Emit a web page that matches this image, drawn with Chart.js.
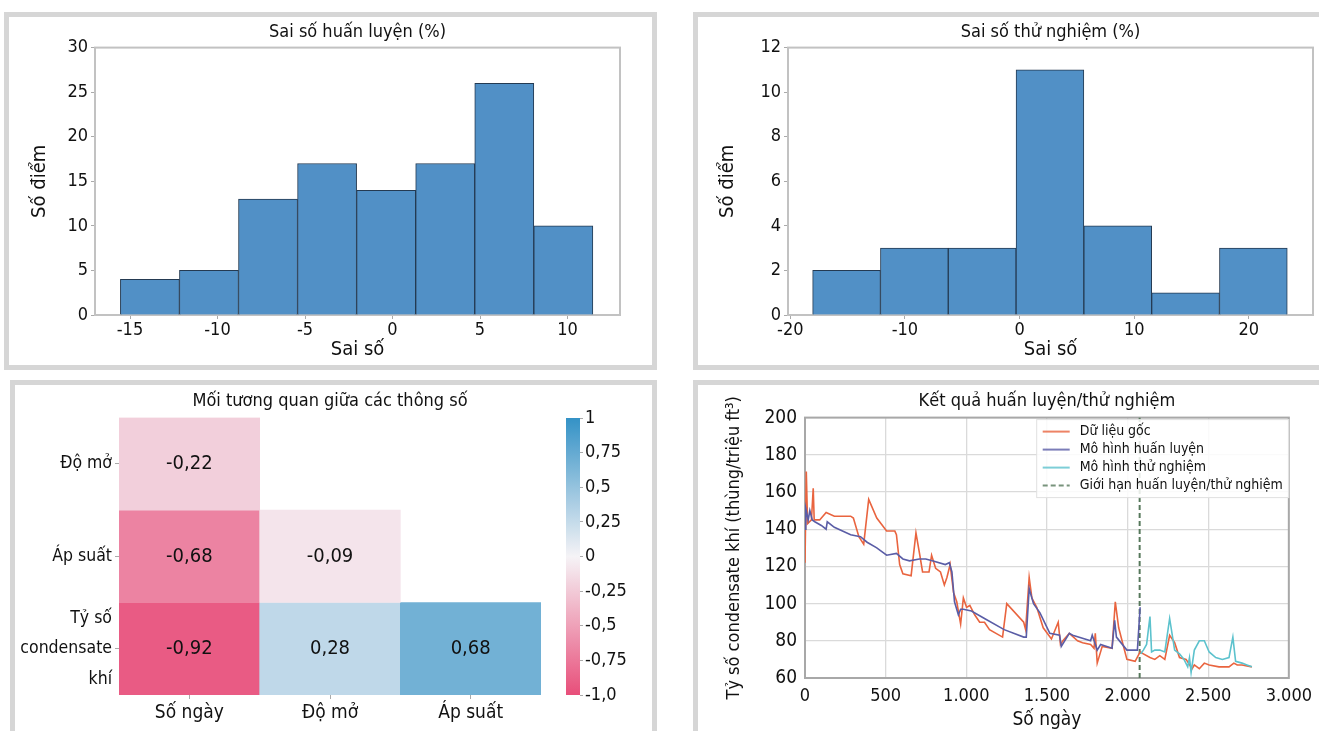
<!DOCTYPE html>
<html>
<head>
<meta charset="utf-8">
<script src="https://cdn.jsdelivr.net/npm/chart.js@4.4.0/dist/chart.umd.min.js"></script>
<style>
  html, body { margin: 0; padding: 0; background: #fff; overflow: hidden; }
  body { width: 1319px; height: 731px; position: relative; }
  .panel { position: absolute; border: 5px solid #d6d6d6; background: #fff; box-sizing: border-box; overflow: hidden; }
  .panel canvas { position: absolute; }
</style>
</head>
<body>
<div class="panel" style="left:4px;top:12px;width:653px;height:358px">
  <canvas id="trainHist" width="643" height="348" style="left:0;top:0"></canvas>
</div>
<div class="panel" style="left:693px;top:12px;width:632px;height:358px">
  <canvas id="testHist" width="622" height="348" style="left:0;top:0"></canvas>
</div>
<div class="panel" style="left:10px;top:380px;width:647px;height:360px">
  <canvas id="corrHeat" width="545" height="350" style="left:0;top:0"></canvas>
  <canvas id="corrBar" width="92" height="320" style="left:545px;top:20px"></canvas>
</div>
<div class="panel" style="left:693px;top:380px;width:632px;height:360px">
  <canvas id="resultLine" width="622" height="350" style="left:0;top:0"></canvas>
</div>

<script>
const FONT = "'Liberation Sans Narrow', 'DejaVu Sans Condensed', 'Roboto Condensed', 'Open Sans', sans-serif";
Chart.defaults.font.family = FONT;
Chart.defaults.color = "#111";
Chart.defaults.animation = false;

// histogram: training error
const trainBinCenters = [-13.8625, -10.4875, -7.1125, -3.7375, -0.3625, 3.0125, 6.3875, 9.7625];
const trainCounts = [4, 5, 13, 17, 14, 17, 26, 10];
const trainXTicks = [-15, -10, -5, 0, 5, 10];

// histogram: test error
const testBinCenters = [-15.0925, -9.1775, -3.2625, 2.6525, 8.5675, 14.4825, 20.3975];
const testCounts = [2, 3, 3, 11, 4, 1, 3];
const testXTicks = [-20, -10, 0, 10, 20];

// correlation heatmap (lower triangle)
const heatCols = ["Số ngày", "Độ mở", "Áp suất"];
const heatRows = ["Độ mở", "Áp suất", ["Tỷ số", "condensate", "khí"]];
const corrDoMo = [-0.22, null, null];
const corrApSuat = [-0.68, -0.09, null];
const corrTySo = [-0.92, 0.28, 0.68];
const cbTickValues = [-1, -0.75, -0.5, -0.25, 0, 0.25, 0.5, 0.75, 1];
const cbTickLabels = ["-1,0", "-0,75", "-0,5", "-0,25", "0", "0,25", "0,5", "0,75", "1"];

// training / test results
const origDays = [0, 8, 16, 40, 51, 57, 91, 131, 182, 283, 300, 334, 364, 395, 445, 506, 557, 567, 587, 607,
  658, 688, 712, 729, 769, 785, 810, 840, 864, 880, 900, 921, 941, 965, 982, 1002, 1022, 1052, 1083, 1113,
  1144, 1225, 1251, 1356, 1368, 1390, 1407, 1437, 1477, 1528, 1570, 1584, 1599, 1639, 1690, 1721, 1771, 1792, 1800, 1812,
  1843, 1904, 1924, 1945, 1996, 2047, 2078, 2098, 2139, 2169, 2200, 2231, 2261, 2292, 2322, 2363, 2400, 2414, 2445, 2476,
  2506, 2567, 2629, 2659, 2680, 2710, 2771];
const origValues = [122, 171, 143, 145, 162, 145, 145, 149, 147, 147, 146, 136, 132, 156, 146, 139, 139, 137, 121, 116,
  115, 138, 126, 117, 117, 126, 119, 117, 110, 114, 121, 106, 101, 89, 103, 98, 99, 94, 90, 90,
  86, 82, 100, 90, 86, 114, 103, 98, 87, 81, 90, 78, 80, 84, 80, 79, 78, 76, 84, 68,
  77, 76, 101, 87, 70, 69, 74, 73, 71, 70, 72, 70, 83, 79, 71, 70, 65, 67, 65, 68,
  67, 66, 66, 68, 67, 67, 66];
const trainDays = [0, 5, 10, 20, 30, 45, 61, 101, 131, 138, 182, 283, 344, 385, 445, 506, 567, 607, 648, 709,
  749, 789, 870, 895, 911, 927, 951, 965, 982, 1032, 1113, 1235, 1356, 1372, 1390, 1417, 1457, 1518, 1579, 1589,
  1639, 1660, 1771, 1781, 1812, 1833, 1904, 1920, 1931, 1996, 2061, 2078];
const trainValues = [140, 151, 149, 145, 150, 145, 144, 142, 140, 144, 141, 137, 136, 133, 130, 126, 127, 124, 123, 124,
  124, 123, 121, 122, 117, 101, 94, 97, 97, 96, 92, 86, 82, 82, 108, 100, 95, 84, 83, 77,
  84, 83, 80, 83, 75, 78, 76, 91, 82, 75, 75, 98];
const testDays = [2082, 2098, 2118, 2139, 2149, 2169, 2200, 2231, 2261, 2292, 2322, 2350, 2373, 2384, 2394, 2414, 2445, 2476, 2506, 2547,
  2588, 2629, 2653, 2670, 2710, 2740, 2771];
const testValues = [73, 75, 78, 93, 74, 75, 75, 74, 92, 75, 73, 70, 66, 71, 63, 75, 80, 80, 74, 71,
  70, 71, 82, 69, 68, 67, 66];
const splitDay = 2075;
const lineXTickLabels = ["0", "500", "1.000", "1.500", "2.000", "2.500", "3.000"];

// rectangle round the plot area
const frameBox = {
  id: "frameBox",
  beforeDatasetsDraw(chart, args, opts) {
    const { ctx, chartArea: a } = chart;
    ctx.save();
    ctx.strokeStyle = opts.color;
    ctx.lineWidth = opts.width;
    ctx.strokeRect(a.left, a.top, a.width, a.height);
    ctx.restore();
  },
};

function histChart(id, centers, counts, xOpts, yOpts, layout) {
  new Chart(document.getElementById(id), {
    type: "bar",
    data: {
      datasets: [{
        data: centers.map((c, i) => ({ x: c, y: counts[i] })),
        backgroundColor: "#5190c6",
        borderColor: "#243a52",
        borderWidth: 1,
        barPercentage: 1,
        categoryPercentage: 1,
      }],
    },
    options: {
      responsive: false,
      layout: { padding: layout.padding },
      plugins: {
        legend: { display: false },
        tooltip: { enabled: false },
        title: {
          display: true, text: layout.title, fullSize: false,
          font: { size: 18, weight: "normal" }, color: "#111", padding: { top: 5, bottom: 4 },
        },
        frameBox: { color: "#c2c2c2", width: 2 },
      },
      scales: {
        x: {
          type: "linear", min: xOpts.min, max: xOpts.max, offset: false,
          afterBuildTicks: (scale) => { scale.ticks = xOpts.ticks.map((v) => ({ value: v })); },
          ticks: { autoSkip: false, padding: 1, font: { size: 18 }, maxRotation: 0 },
          grid: { drawOnChartArea: false, tickLength: 4, color: "#aaa", offset: false },
          border: { display: false },
          title: { display: true, text: "Sai số", font: { size: 20 }, padding: { top: 0, bottom: 3 } },
          afterFit: (scale) => { scale.height = 50; },
        },
        y: {
          min: 0, max: yOpts.max,
          ticks: { stepSize: yOpts.step, padding: 3, font: { size: 18 } },
          grid: { drawOnChartArea: false, tickLength: 4, color: "#aaa" },
          border: { display: false },
          title: { display: true, text: "Số điểm", font: { size: 20 } },
          afterFit: (scale) => { scale.width = layout.yWidth; },
        },
      },
    },
    plugins: [frameBox],
  });
}

histChart("trainHist", trainBinCenters, trainCounts,
  { min: -17.0, max: 13.0, ticks: trainXTicks }, { max: 30, step: 5 },
  { title: "Sai số huấn luyện (%)", padding: { left: 15, right: 32 }, yWidth: 71 });
histChart("testHist", testBinCenters, testCounts,
  { min: -20.2, max: 25.6, ticks: testXTicks }, { max: 12, step: 2 },
  { title: "Sai số thử nghiệm (%)", padding: { left: 14, right: 7 }, yWidth: 76 });

// pink <-> white <-> blue diverging map
const negEnd = [232, 78, 122];
const midColour = [245, 243, 246];
const posEnd = [52, 146, 198];
function corrColor(v) {
  if (v === null || v === undefined) return "rgba(0,0,0,0)";
  const end = v < 0 ? negEnd : posEnd;
  const t = Math.min(1, Math.abs(v));
  const c = midColour.map((m, k) => Math.round(m + (end[k] - m) * t));
  return `rgb(${c[0]},${c[1]},${c[2]})`;
}

const cellText = {
  id: "cellText",
  afterDatasetsDraw(chart) {
    const ctx = chart.ctx;
    ctx.save();
    ctx.font = `20px ${FONT}`;
    ctx.fillStyle = "#111";
    ctx.textAlign = "center";
    ctx.textBaseline = "middle";
    chart.data.datasets.forEach((ds, di) => {
      chart.getDatasetMeta(di).data.forEach((bar, i) => {
        const v = ds.corr[i];
        if (v === null) return;
        const label = v.toFixed(2).replace(".", ",");
        ctx.fillText(label, bar.x, (bar.y + bar.base) / 2);
      });
    });
    ctx.restore();
  },
};

const corrRows = [corrDoMo, corrApSuat, corrTySo];
new Chart(document.getElementById("corrHeat"), {
  type: "bar",
  data: {
    labels: heatCols,
    datasets: corrRows.map((vals, r) => ({
      data: vals.map((v) => (v === null ? null : [r, r + 1])),
      corr: vals,
      backgroundColor: (c) => corrColor(vals[c.dataIndex]),
      borderWidth: 0,
      grouped: false,
      barPercentage: 1,
      categoryPercentage: 1,
    })),
  },
  options: {
    responsive: false,
    layout: { padding: { left: 0, right: 19 } },
    plugins: {
      legend: { display: false },
      tooltip: { enabled: false },
      title: {
        display: true, text: "Mối tương quan giữa các thông số", fullSize: false,
        font: { size: 18, weight: "normal" }, color: "#111", padding: { top: 6, bottom: 5 },
      },
    },
    scales: {
      x: {
        ticks: { font: { size: 19 }, padding: 3, maxRotation: 0 },
        grid: { drawOnChartArea: false, tickLength: 4, color: "#aaa", offset: false },
        border: { display: false },
        afterFit: (scale) => { scale.height = 40; },
      },
      y: {
        min: 0, max: 3, reverse: true,
        afterBuildTicks: (scale) => { scale.ticks = heatRows.map((_, i) => ({ value: i + 0.5 })); },
        ticks: { autoSkip: false, font: { size: 17.5, lineHeight: 1.75 }, padding: 3, callback: (v, i) => heatRows[i] },
        grid: { drawOnChartArea: false, tickLength: 4, color: "#aaa" },
        border: { display: false },
        afterFit: (scale) => {
          scale.width = 104;
          scale.paddingTop = 0;
          scale.paddingBottom = 0;
        },
      },
    },
  },
  plugins: [cellText],
});

// colour bar
new Chart(document.getElementById("corrBar"), {
  type: "bar",
  data: {
    labels: ["cb"],
    datasets: [{
      data: [[-1, 1]],
      backgroundColor: (c) => {
        const a = c.chart.chartArea;
        if (!a) return corrColor(0);
        const g = c.chart.ctx.createLinearGradient(0, a.bottom, 0, a.top);
        for (let k = 0; k <= 20; k++) g.addColorStop(k / 20, corrColor(-1 + k / 10));
        return g;
      },
      borderWidth: 0,
      barPercentage: 1,
      categoryPercentage: 1,
    }],
  },
  options: {
    responsive: false,
    layout: { padding: { left: 6, top: 13, bottom: 30 } },
    plugins: { legend: { display: false }, tooltip: { enabled: false } },
    scales: {
      x: { display: false },
      y: {
        position: "right", min: -1, max: 1,
        afterBuildTicks: (scale) => { scale.ticks = cbTickValues.map((v) => ({ value: v })); },
        ticks: { autoSkip: false, font: { size: 18 }, padding: 2, callback: (v, i) => cbTickLabels[i] },
        grid: { drawOnChartArea: false, tickLength: 3, color: "#aaa" },
        border: { display: false },
        afterFit: (scale) => { scale.width = 72; },
      },
    },
  },
});

// legend drawn inside the plot, top right
const insideLegend = {
  id: "insideLegend",
  afterDatasetsDraw(chart, args, opts) {
    const { ctx, chartArea: a } = chart;
    const items = chart.data.datasets;
    ctx.save();
    ctx.font = `${opts.size}px ${FONT}`;
    const textW = Math.max(...items.map((d) => ctx.measureText(d.label).width));
    const lineLen = 27, gap = 10, padX = 6, rowH = 18;
    const w = padX + lineLen + gap + textW + padX;
    const h = rowH * items.length + 6;
    const x0 = a.right - w, y0 = a.top + 2;
    ctx.fillStyle = "rgba(255,255,255,0.85)";
    ctx.fillRect(x0, y0, w, h);
    ctx.strokeStyle = "#e0e0e0";
    ctx.lineWidth = 1;
    ctx.strokeRect(x0, y0, w, h);
    items.forEach((d, i) => {
      const y = y0 + 3 + rowH * (i + 0.5);
      ctx.strokeStyle = d.borderColor;
      ctx.globalAlpha = 0.8;
      ctx.lineWidth = 2;
      ctx.setLineDash(d.borderDash || []);
      ctx.beginPath();
      ctx.moveTo(x0 + padX, y);
      ctx.lineTo(x0 + padX + lineLen, y);
      ctx.stroke();
      ctx.setLineDash([]);
      ctx.globalAlpha = 1;
      ctx.fillStyle = "#111";
      ctx.textBaseline = "middle";
      ctx.fillText(d.label, x0 + padX + lineLen + gap, y);
    });
    ctx.restore();
  },
};

function toPoints(xs, ys) {
  return xs.map((x, i) => ({ x: x, y: ys[i] }));
}

new Chart(document.getElementById("resultLine"), {
  type: "line",
  data: {
    datasets: [
      { label: "Dữ liệu gốc", data: toPoints(origDays, origValues), borderColor: "#e9643f", order: 1 },
      { label: "Mô hình huấn luyện", data: toPoints(trainDays, trainValues), borderColor: "#5a5da6", order: 0 },
      { label: "Mô hình thử nghiệm", data: toPoints(testDays, testValues), borderColor: "#5cc2cd", order: 0 },
      {
        label: "Giới hạn huấn luyện/thử nghiệm",
        data: [{ x: splitDay, y: 60 }, { x: splitDay, y: 200 }],
        borderColor: "#56785b", borderDash: [5, 3], borderWidth: 2, order: 2,
      },
    ],
  },
  options: {
    responsive: false,
    layout: { padding: { left: 22, right: 23 } },
    elements: { point: { radius: 0 }, line: { borderWidth: 1.6, tension: 0 } },
    plugins: {
      legend: { display: false },
      tooltip: { enabled: false },
      title: {
        display: true, text: "Kết quả huấn luyện/thử nghiệm", fullSize: false,
        font: { size: 18, weight: "normal" }, color: "#111", padding: { top: 6, bottom: 5 },
      },
      frameBox: { color: "#a8a8a8", width: 2 },
      insideLegend: { size: 14 },
    },
    scales: {
      x: {
        type: "linear", min: 0, max: 3000,
        ticks: { stepSize: 500, padding: 8, font: { size: 18 }, maxRotation: 0, callback: (v, i) => lineXTickLabels[i] },
        grid: { color: "#dadada", lineWidth: 1.3, drawTicks: false },
        border: { display: false },
        title: { display: true, text: "Số ngày", font: { size: 19 } },
        afterFit: (scale) => { scale.height = 57; },
      },
      y: {
        min: 60, max: 200,
        ticks: { stepSize: 20, padding: 8, font: { size: 19 } },
        grid: { color: "#dadada", lineWidth: 1.3, drawTicks: false },
        border: { display: false },
        title: { display: true, text: "Tỷ số condensate khí (thùng/triệu ft³)", font: { size: 18 } },
        afterFit: (scale) => { scale.width = 85; },
      },
    },
  },
  plugins: [frameBox, insideLegend],
});
</script>
</body>
</html>
